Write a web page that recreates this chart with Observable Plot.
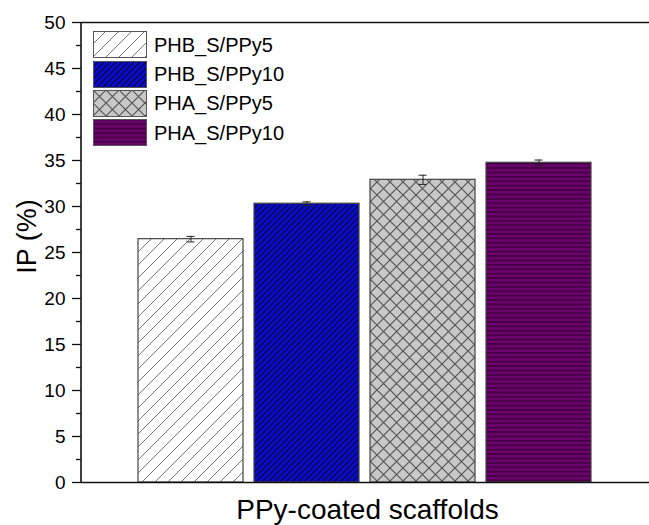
<!DOCTYPE html>
<html>
<head>
<meta charset="utf-8">
<script src="https://cdn.jsdelivr.net/npm/d3@7"></script>
<script src="https://cdn.jsdelivr.net/npm/@observablehq/plot@0.6"></script>
<style>
  html, body { margin: 0; padding: 0; background: #fff; }
  #wrap { position: relative; width: 649px; height: 525px; font-family: "Liberation Sans", Arial, sans-serif; }
  #legend { position: absolute; left: 93px; top: 30px; }
  .row { display: flex; align-items: center; height: 29.4px; }
  .row svg { display: block; }
  .row span { margin-left: 7px; font-size: 20px; color: #000; line-height: 1; }
  g[aria-label="y-axis tick label"] text { font-size: 19px; fill: #000; }
</style>
</head>
<body>
<div id="wrap"><div id="legend"></div></div>
<script>
// ---- data ----
const categories = ["PHB_S/PPy5", "PHB_S/PPy10", "PHA_S/PPy5", "PHA_S/PPy10"];
const values = [26.45, 30.3, 32.9, 34.75];
const errors = [0.3, 0.2, 0.5, 0.3];
const yTicks = [0, 5, 10, 15, 20, 25, 30, 35, 40, 45, 50];
const yMinorTicks = [2.5, 7.5, 12.5, 17.5, 22.5, 27.5, 32.5, 37.5, 42.5, 47.5];
const xLabel = "PPy-coated scaffolds";
const yLabel = "IP (%)";

const data = categories.map((c, i) => ({cat: c, v: values[i], e: errors[i]}));

// ---- styles (patterns) ----
const patternIds = ["p-hatch-white", "p-hatch-blue", "p-cross-gray", "p-horiz-purple"];
const defsMarkup = `
<pattern id="p-hatch-white" patternUnits="userSpaceOnUse" width="13" height="13">
  <rect width="13" height="13" fill="#ffffff"/>
  <path d="M0,13 L13,0 M-3,3 L3,-3 M10,16 L16,10" stroke="#7a7a7a" stroke-width="1"/>
</pattern>
<pattern id="p-hatch-blue" patternUnits="userSpaceOnUse" width="6" height="6">
  <rect width="6" height="6" fill="#0a0ad2"/>
  <path d="M0,6 L6,0 M-2,2 L2,-2 M4,8 L8,4" stroke="#0a0a3a" stroke-width="1.3"/>
</pattern>
<pattern id="p-cross-gray" patternUnits="userSpaceOnUse" width="13" height="13">
  <rect width="13" height="13" fill="#c8c8c8"/>
  <path d="M0,0 L13,13 M0,13 L13,0" stroke="#555555" stroke-width="1.2"/>
</pattern>
<pattern id="p-horiz-purple" patternUnits="userSpaceOnUse" width="8" height="4.4">
  <rect width="8" height="4.4" fill="#6c006c"/>
  <rect y="0" width="8" height="1.6" fill="#3e003e"/>
</pattern>`;

const marks = [];
categories.forEach((c, i) => {
  marks.push(Plot.barY(data.filter(d => d.cat === c), {
    x: "cat", y: "v", fill: `url(#${patternIds[i]})`, stroke: "#444", strokeWidth: 1.2
  }));
});
marks.push(
  Plot.ruleX(data, {x: "cat", y1: d => d.v - d.e, y2: d => d.v + d.e, stroke: "#222", strokeWidth: 1}),
  Plot.tickY(data, {x: "cat", y: d => d.v + d.e, insetLeft: 48.5, insetRight: 48.5, stroke: "#222", strokeWidth: 1}),
  Plot.tickY(data, {x: "cat", y: d => d.v - d.e, insetLeft: 48.5, insetRight: 48.5, stroke: "#222", strokeWidth: 1}),
  Plot.ruleY([0, 50], {stroke: "#111", strokeWidth: 1.6}),
  Plot.axisY({ticks: yTicks, tickSize: 9, tickPadding: 7, fontSize: 19, label: null, stroke: "#111", strokeWidth: 1.3, fill: "#000"}),
  Plot.axisY({ticks: yMinorTicks, tickSize: 5, tickFormat: () => "", label: null, stroke: "#111", strokeWidth: 1.3}),
  Plot.text([yLabel], {frameAnchor: "left", textAnchor: "middle", lineAnchor: "middle", text: d => d, rotate: -90, dx: -54, dy: -16, fontSize: 27, fill: "#000"}),
  Plot.text([xLabel], {frameAnchor: "bottom", textAnchor: "middle", text: d => d, dx: 2, dy: 36, fontSize: 28, fill: "#000"})
);

const svg = Plot.plot({
  width: 649,
  height: 525,
  marginLeft: 81,
  marginRight: 0,
  marginTop: 22,
  marginBottom: 43,
  style: {fontFamily: "Liberation Sans, Arial, sans-serif", fontSize: "19px", color: "#000", background: "#fff", overflow: "visible"},
  x: {domain: categories, paddingInner: 0.094, paddingOuter: 0.4745, axis: null},
  y: {domain: [0, 50]},
  marks
});

// defs for patterns
const defs = document.createElementNS("http://www.w3.org/2000/svg", "defs");
defs.innerHTML = defsMarkup;
svg.insertBefore(defs, svg.firstChild);

// left axis line
const yScale = svg.scale("y");
const line = document.createElementNS("http://www.w3.org/2000/svg", "line");
line.setAttribute("x1", 81); line.setAttribute("x2", 81);
line.setAttribute("y1", yScale.apply(50)); line.setAttribute("y2", yScale.apply(0));
line.setAttribute("stroke", "#111"); line.setAttribute("stroke-width", 1.6);
svg.appendChild(line);

const wrap = document.getElementById("wrap");
wrap.insertBefore(svg, wrap.firstChild);

// legend
const legend = document.getElementById("legend");
categories.forEach((c, i) => {
  const row = document.createElement("div");
  row.className = "row";
  row.innerHTML = `<svg width="54" height="27"><rect x="0.5" y="0.5" width="53" height="26" fill="url(#${patternIds[i]})" stroke="#555" stroke-width="1"/></svg><span>${c}</span>`;
  legend.appendChild(row);
});
</script>
</body>
</html>
